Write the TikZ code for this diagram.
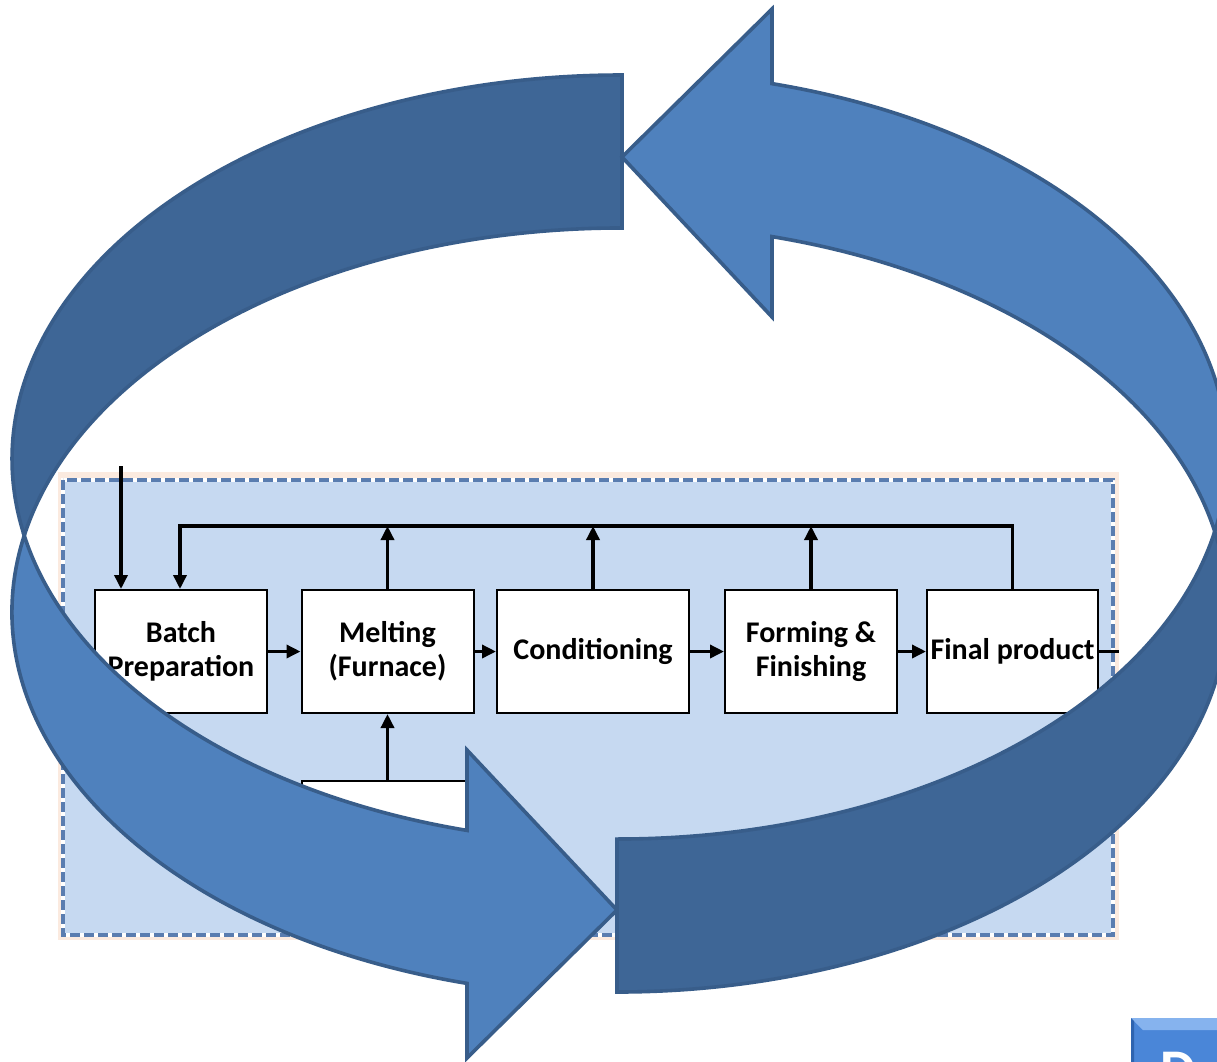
\documentclass[tikz,border=0pt]{standalone}
\usepackage{fontspec}
\setmainfont{Carlito}
\usetikzlibrary{arrows.meta,calc}
\definecolor{arrowlight}{HTML}{4F81BD}
\definecolor{arrowdark}{HTML}{3E6696}
\definecolor{arrowline}{HTML}{385D8A}
\definecolor{panelfill}{HTML}{C6D9F1}
\definecolor{paneledge}{HTML}{5A7DB0}
\definecolor{panelback}{HTML}{FBEADF}
\definecolor{btnfill}{HTML}{4A86D8}
\definecolor{btntop}{HTML}{86B3EE}
\definecolor{btnleft}{HTML}{2E64B0}
\begin{document}
\begin{tikzpicture}[x=1pt,y=-1pt,
  stage/.style={draw=black,line width=2pt,fill=white,minimum width=172pt,minimum height=123pt,inner sep=0pt,align=center,font=\fontsize{30}{34}\selectfont\bfseries},
  conn/.style={draw=black,line width=3.4pt},
  arrowend/.style={-{Triangle[length=14pt,width=13pt]}},
  bigarrow/.style={draw=arrowline,line width=3.6pt,line join=miter}
]
\useasboundingbox (0,0) rectangle (1217,1061);
\clip (0,0) rectangle (1217,1061);
\fill[white] (0,0) rectangle (1217,1061);
% panel
\fill[panelback] (58,472) rectangle (1119,940);
\fill[panelfill] (62,478) rectangle (1115,937);
\draw[white,line width=3.8pt] (63,480) rectangle (1113,935);
\draw[paneledge,line width=3.8pt,dash pattern=on 10pt off 4pt] (63,480) rectangle (1113,935);
% stages
\node[stage] (batch) at (181,651.5) {Batch\\Preparation};
\node[stage] (melt) at (387.5,651.5) {Melting\\(Furnace)};
\node[stage,minimum width=192pt] (cond) at (593,651.5) {Conditioning};
\node[stage] (form) at (811,651.5) {Forming \&\\Finishing};
\node[stage,minimum width=171pt] (final) at (1012.5,651.5) {Final product};
\node[draw=black,line width=2pt,fill=white,minimum width=183pt,minimum height=89pt,inner sep=0pt] (sub) at (393.5,825.5) {};
% connectors
\draw[conn,arrowend] (batch) -- (melt);
\draw[conn,arrowend] (melt) -- (cond);
\draw[conn,arrowend] (cond) -- (form);
\draw[conn,arrowend] (form) -- (final);
\coordinate (out) at (1119,651.5);
\draw[conn] (final) -- (out);
\coordinate (fbL) at (180,526);
\coordinate (fbR) at (1012.5,526);
\draw[conn,arrowend] (final.north) -- (fbR) -- (fbL) -- (fbL |- batch.north);
\draw[conn,arrowend] (melt.north) -- (melt.north |- fbL);
\draw[conn,arrowend] (cond.north) -- (cond.north |- fbL);
\draw[conn,arrowend] (form.north) -- (form.north |- fbL);
\coordinate (in) at (121,466);
\draw[conn,arrowend] (in) -- (in |- batch.north);
\draw[conn,arrowend] (melt.south |- sub.north) -- (melt.south);
% big circular arrows
\foreach \r in {0,180}{
 \begin{scope}[rotate around={\r:(619.5,533.5)}]
 \filldraw[bigarrow,fill=arrowdark] (622,75) arc[start angle=-90,end angle=-191.49,x radius=610,y radius=384] arc[start angle=-168.51,end angle=-90,x radius=610,y radius=384] -- cycle;
 \filldraw[bigarrow,fill=arrowlight] (24.25,535.5) arc[start angle=-168.51,end angle=-255.28,x radius=610,y radius=384] -- (467,1058) -- (617,910) -- (467,750) -- (467,830.4) arc[start angle=-255.28,end angle=-191.49,x radius=610,y radius=384] -- cycle;
 \end{scope}
}
% partial button
\fill[btnfill] (1131,1018) rectangle (1230,1080);
\fill[btntop] (1131,1018) -- (1230,1018) -- (1230,1030) -- (1143,1030) -- cycle;
\fill[btnleft] (1131,1018) -- (1134,1021) -- (1134,1080) -- (1131,1080) -- cycle;
\node[text=white,font=\fontsize{56}{60}\selectfont\bfseries,anchor=north west,inner sep=0pt] (btntext) at (1160,1052) {D};
\end{tikzpicture}
\end{document}
